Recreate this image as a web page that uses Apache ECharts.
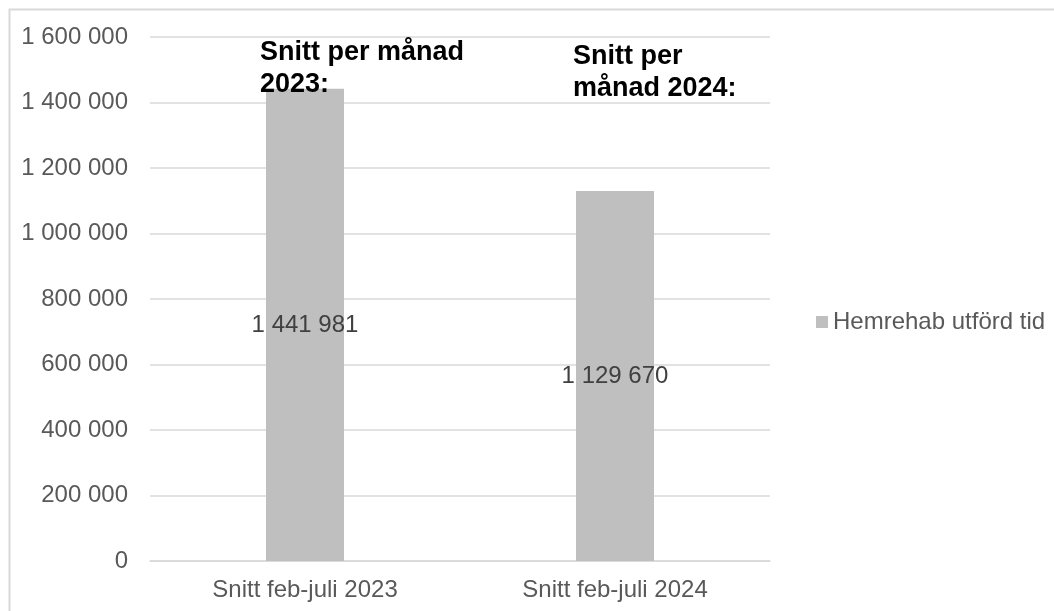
<!DOCTYPE html>
<html>
<head>
<meta charset="utf-8">
<script src="https://cdn.jsdelivr.net/npm/echarts@6/dist/echarts.min.js"></script>
<style>
  html, body { margin: 0; padding: 0; background: #fff; }
  #chart { width: 1054px; height: 611px; }
</style>
</head>
<body>
<div id="chart"></div>
<script>
// data
const categories = ['Snitt feb-juli 2023', 'Snitt feb-juli 2024'];
const seriesName = 'Hemrehab utförd tid';
const values = [1441981, 1129670];
const notes = ['Snitt per månad\n2023:', 'Snitt per\nmånad 2024:'];

const fmt = v => String(v).replace(/\B(?=(\d{3})+(?!\d))/g, ' ');
const FONT = '"Liberation Sans", Arial, sans-serif';

const chart = echarts.init(document.getElementById('chart'));
const option = {
  animation: false,
  textStyle: { fontFamily: FONT },
  grid: { left: 150, right: 284, top: 37, bottom: 50 },
  legend: {
    data: [seriesName],
    left: 811, top: 305,
    icon: 'rect', itemWidth: 12, itemHeight: 12,
    textStyle: { color: '#595959', fontSize: 24, fontFamily: FONT }
  },
  xAxis: {
    type: 'category',
    data: categories,
    axisTick: { show: false },
    axisLine: { lineStyle: { color: '#d9d9d9', width: 1.5 } },
    axisLabel: { color: '#595959', fontSize: 24, margin: 17 }
  },
  yAxis: {
    type: 'value',
    min: 0, max: 1600000, interval: 200000,
    axisLine: { show: false },
    axisTick: { show: false },
    axisLabel: { color: '#595959', fontSize: 24, margin: 22, formatter: fmt },
    splitLine: { lineStyle: { color: '#d9d9d9', width: 1.5 } }
  },
  series: [{
    name: seriesName,
    type: 'bar',
    data: values,
    barWidth: 78,
    itemStyle: { color: '#bfbfbf' },
    label: {
      show: true, position: 'inside',
      color: '#404040', fontSize: 24,
      formatter: p => fmt(p.value)
    }
  }],
  graphic: [
    {
      type: 'rect', silent: true, z: -1,
      shape: { x: 9.5, y: 9.5, width: 1100, height: 700 },
      style: { fill: 'none', stroke: '#d9d9d9', lineWidth: 2 }
    },
    {
      type: 'text', left: 260, top: 37, z: 100,
      style: { text: notes[0], font: 'bold 27px ' + FONT, fill: '#000', lineHeight: 32 }
    },
    {
      type: 'text', left: 573, top: 41, z: 100,
      style: { text: notes[1], font: 'bold 27px ' + FONT, fill: '#000', lineHeight: 32 }
    }
  ]
};
chart.setOption(option);
</script>
</body>
</html>
